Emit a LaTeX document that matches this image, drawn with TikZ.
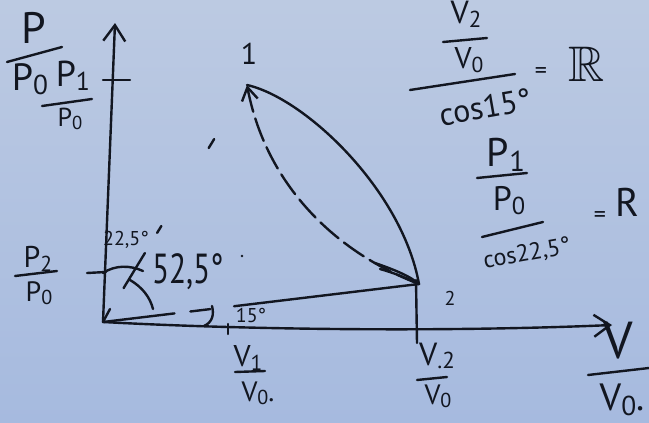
\documentclass[tikz,border=0pt]{standalone}
\usepackage{fontspec}
\usepackage{amssymb}
\setmainfont{PT Sans}
\usetikzlibrary{arrows.meta,calc}
\definecolor{paperA}{RGB}{188,202,226}
\definecolor{paperB}{RGB}{166,186,223}
\definecolor{ink}{RGB}{18,22,32}
\newcommand\sbs[1]{\raisebox{-0.12em}{\scalebox{0.72}{#1}}}
\begin{document}
\begin{tikzpicture}[x=1pt,y=-1pt,line cap=round,line join=round,
  hand/.style={font=\fontsize{#1}{#1}\selectfont,inner sep=0pt,text=ink},
  ink line/.style={draw=ink,line width=2.4pt},
  axtip/.tip={Straight Barb[length=16pt,width=22pt,line width=2.4pt]}]
\shade[top color=paperA,bottom color=paperB] (0,0) rectangle (649,423);
\useasboundingbox (0,0) rectangle (649,423);

% key points
\coordinate (O) at (103,322);
\coordinate (Ytop) at (115,23);
\coordinate (Xend) at (612,325);
\coordinate (P1) at (247,85);
\coordinate (P2) at (419,284);

% axes
\draw[ink line,-{axtip}] (O) -- (Ytop);
\draw[ink line,-{axtip}] (O) .. controls (250,330) and (450,332) .. (Xend);

% ticks
\draw[ink line] (103,80) -- (130,80);
\draw[ink line] (87,273) -- (106,272);
\draw[ink line] (228,324) -- (228,334);
\draw[ink line] (416,280) -- (417,343);

% process curves
\draw[ink line] (P1) .. controls (305,98) and (402,190) .. (P2);
\draw[ink line,dash pattern=on 24pt off 7pt,-{Straight Barb[length=13pt,width=16pt,line width=2.4pt]}]
  (P2) .. controls (330,250) and (265,180) .. (P1);
\draw[ink line] (375,263) .. controls (395,270) and (410,276) .. (P2);
\draw[ink line] (380,269) .. controls (398,274) and (410,280) .. (P2);

% line O-2 with its one-sided arrow barb at O
\draw[ink line,dash pattern=on 72pt off 16pt on 20pt off 24pt on 400pt] (O) -- (P2);
\draw[ink line] (O) -- ++(7,-13);

% sparse dashed line O-1
\draw[ink line] ($(O)!0.143!(P1)$) -- ($(O)!0.291!(P1)$);
\draw[ink line] ($(O)!0.376!(P1)$) -- ($(O)!0.405!(P1)$);
\draw[ink line] ($(O)!0.734!(P1)$) -- ($(O)!0.772!(P1)$);

% angle arcs
\draw[ink line] (103,273) .. controls (115,265) and (130,265) .. (143,271);
\draw[ink line] (130,280) .. controls (142,287) and (150,297) .. (153,309);
\draw[ink line] (212,306) .. controls (214,314) and (213,322) .. (204,326);
\fill[ink] (242,256) circle (1.4pt);

% y-axis labels
\node[hand=44] (lP) at (34,28) {P};
\draw[ink line] (7,62) -- (62,47);
\node[hand=38] (lP0) at (30,79) {P\sbs{0}};
\node[hand=36] (lP1) at (73,76) {P\sbs{1}};
\draw[ink line] (42,106) -- (92,99);
\node[hand=26] (lP1d) at (70,119) {P\sbs{0}};
\node[hand=30] (lP2) at (38,259) {P\sbs{2}};
\draw[ink line] (15,276) -- (57,271);
\node[hand=28] (lP2d) at (39,293) {P\sbs{0}};

% angle labels
\node[hand=20] (a22) at (126,240) {22,5°};
\node[hand=42,xscale=0.75] (a52) at (188,272) {52,5°};
\node[hand=20] (a15) at (251,315) {15°};

% point labels
\node[hand=30] (n1) at (249,54) {1};
\node[hand=20] (n2) at (450,298) {2};

% x-axis labels
\node[hand=30] (v1) at (248,358) {V\sbs{1}};
\draw[ink line] (235,372) -- (265,371);
\node[hand=28] (v1d) at (258,393) {V\sbs{0}.};
\node[hand=32] (v2) at (437,356) {V\sbs{.2}};
\draw[ink line] (417,380) -- (447,377);
\node[hand=28] (v2d) at (438,396) {V\sbs{0}};
\node[hand=52] (vV) at (618,341) {V};
\draw[ink line] (588,375) -- (649,368);
\node[hand=38] (vV0) at (622,400) {V\sbs{0}.};

% formula 1
\node[hand=32] (f1n) at (466,14) {V\sbs{2}};
\draw[ink line] (443,42) -- (487,38);
\node[hand=30] (f1d) at (469,60) {V\sbs{0}};
\draw[ink line] (410,90) -- (515,74);
\node[hand=32,rotate=10] (f1c) at (485,107) {cos15°};
\node[hand=24] (f1e) at (541,73) {=};
\node[hand=50] (f1r) at (587,64) {$\mathbb{R}$};

% formula 2
\node[hand=40] (f2n) at (506,155) {P\sbs{1}};
\draw[ink line] (477,178) -- (527,173);
\node[hand=34] (f2d) at (509,201) {P\sbs{0}};
\draw[ink line] (482,237) -- (543,222);
\node[hand=24,rotate=10] (f2c) at (527,254) {cos22,5°};
\node[hand=24] (f2e) at (600,217) {=};
\node[hand=40] (f2r) at (627,202) {R};
\end{tikzpicture}
\end{document}
